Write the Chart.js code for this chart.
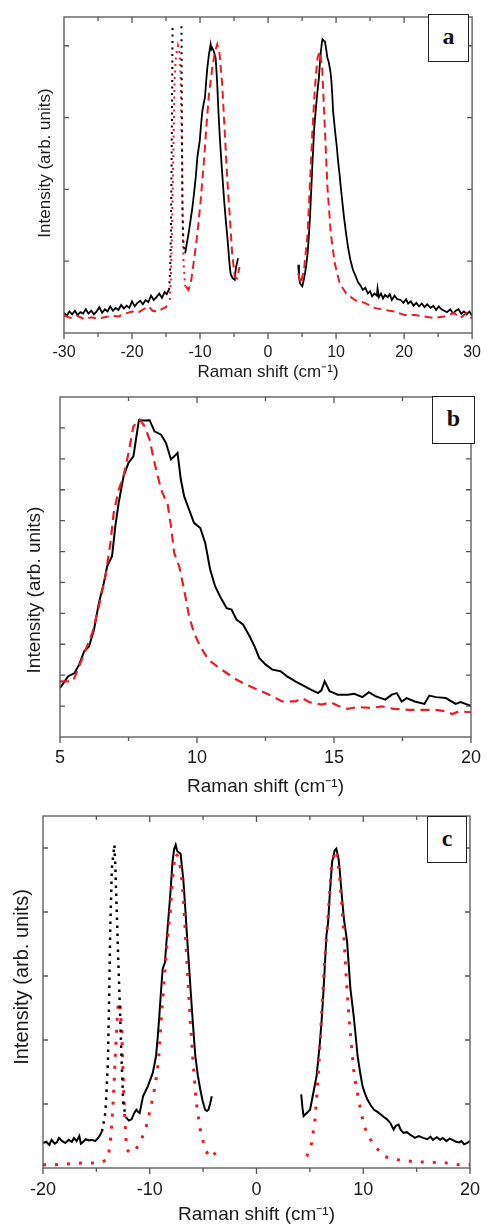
<!DOCTYPE html>
<html lang="en">
<head>
<meta charset="UTF-8">
<title>Raman spectra a, b, c</title>
<script src="https://cdn.jsdelivr.net/npm/chart.js"></script>
<style>
  body { margin: 0; background: #fff; }
  #page { position: relative; width: 491px; height: 1227px; overflow: hidden; }
  .panel { position: absolute; left: 0; }
  .tag { position: absolute; box-sizing: border-box; border: 1.5px solid #222; background: #fff;
         font: bold 24px "Liberation Serif", "Times New Roman", serif; color: #111;
         display: flex; align-items: center; justify-content: center; padding-bottom: 3px; }
</style>
</head>
<body>
<div id="page">
  <canvas id="chartA" class="panel" width="491" height="385" style="top:0"></canvas>
  <canvas id="chartB" class="panel" width="491" height="415" style="top:385px"></canvas>
  <canvas id="chartC" class="panel" width="491" height="427" style="top:800px"></canvas>
  <div class="tag" style="left:428px;top:14px;width:41px;height:48px">a</div>
  <div class="tag" style="left:432px;top:396px;width:43px;height:48px">b</div>
  <div class="tag" style="left:427px;top:816px;width:40px;height:47px">c</div>
</div>

<script>
// ---- panel a: full spectrum, -30..30 cm-1 ----
const aSolid = [
  [-30,0.28],[-29.6,0.24],[-29.2,0.3],[-28.8,0.26],[-28.4,0.31],[-28,0.25],[-27.6,0.29],[-27.2,0.27],[-26.8,0.33],[-26.4,0.27],
  [-26,0.31],[-25.6,0.26],[-25.2,0.3],[-24.8,0.36],[-24.4,0.28],[-24,0.33],[-23.6,0.3],[-23.2,0.37],[-22.8,0.31],[-22.4,0.35],
  [-22,0.32],[-21.6,0.39],[-21.2,0.34],[-20.8,0.38],[-20.4,0.35],[-20,0.44],[-19.6,0.37],[-19.2,0.42],[-18.8,0.45],[-18.4,0.4],
  [-18,0.46],[-17.6,0.43],[-17.2,0.52],[-16.8,0.46],[-16.4,0.5],[-16,0.55],[-15.6,0.49],[-15.2,0.57],[-14.9,0.54],[-14.6,0.6],
  [-14.4,null],
  [-12.19,1.11],[-11.9,1.27],[-11.61,1.43],[-11.35,1.6],[-11.12,1.75],[-10.78,2.03],[-10.6,2.2],[-10.39,2.45],[-10.04,2.68],
  [-9.85,2.9],[-9.66,3.09],[-9.45,3.2],[-9.27,3.28],[-9.1,3.5],[-8.93,3.69],[-8.69,3.88],[-8.44,4.02],[-8.32,3.95],[-8.2,3.97],
  [-7.96,3.92],[-7.71,3.83],[-7.6,3.68],[-7.47,3.46],[-7.3,3.1],[-7.12,2.77],[-6.94,2.5],[-6.74,2.22],[-6.5,1.9],[-6.25,1.61],
  [-6.05,1.4],[-5.86,1.2],[-5.7,1.0],[-5.52,0.83],[-5.35,0.79],[-5.18,0.76],[-4.89,0.74],[-4.8,0.85],[-4.7,0.92],[-4.55,0.98],[-4.41,1.04],
  [0,null],
  [4.45,0.95],[4.55,0.78],[4.7,0.69],[5.04,0.65],[5.25,0.74],[5.43,0.83],[5.62,0.95],[5.82,1.11],[6.0,1.35],[6.16,1.61],
  [6.33,1.95],[6.5,2.31],[6.65,2.6],[6.79,2.86],[6.96,3.05],[7.13,3.23],[7.3,3.4],[7.47,3.55],[7.62,3.75],[7.77,3.92],
  [7.9,4.03],[8.0,4.09],[8.18,4.07],[8.35,4.06],[8.55,3.95],[8.73,3.83],[8.9,3.78],[9.08,3.69],[9.2,3.62],[9.31,3.51],
  [9.45,3.3],[9.56,3.09],[9.73,2.93],[9.9,2.77],[10.1,2.6],[10.29,2.4],[10.5,2.22],[10.69,2.03],[10.93,1.82],[11.17,1.61],
  [11.45,1.4],[11.75,1.2],[12.1,1.02],[12.48,0.88],[12.85,0.8],[13.21,0.71],[13.6,0.66],[13.94,0.6],[14.3,0.63],[14.67,0.55],
  [15.0,0.58],[15.3,0.51],[15.65,0.55],[16.0,0.52],[16.1,0.62],[16.3,0.5],[16.6,0.55],[16.9,0.48],[17.2,0.53],[17.6,0.5],
  [17.9,0.54],[18.2,0.46],[18.6,0.52],[19.0,0.47],[19.5,0.46],[19.9,0.42],[20.3,0.47],[20.6,0.41],[21.0,0.44],[21.4,0.38],
  [21.8,0.42],[22.2,0.37],[22.6,0.41],[23.0,0.36],[23.4,0.4],[23.9,0.35],[24.3,0.38],[24.7,0.32],[25.1,0.37],[25.5,0.33],
  [25.9,0.31],[26.3,0.29],[26.8,0.33],[27.2,0.27],[27.6,0.31],[28.0,0.33],[28.4,0.27],[28.8,0.3],[29.2,0.26],[29.6,0.3],[30,0.24]
];
const aRedDash = [
  [-30,0.24],[-29,0.21],[-28,0.24],[-27,0.19],[-26,0.22],[-25,0.2],[-24,0.22],[-23,0.24],[-22,0.23],[-21,0.27],
  [-20,0.3],[-19,0.29],[-18,0.35],[-17.5,0.37],[-17,0.31],[-16.2,0.3],[-15.5,0.34],[-15,0.36],[-14.6,0.44],
  [-13.5,null],
  [-12.09,0.65],[-11.71,0.6],[-11.36,0.69],[-10.88,1.02],[-10.39,1.38],[-9.9,1.85],[-9.42,2.4],[-9.08,2.86],[-8.69,3.32],
  [-8.2,3.69],[-7.81,3.92],[-7.47,4.02],[-7.12,3.88],[-6.74,3.46],[-6.35,2.77],[-6.01,2.17],[-5.62,1.61],[-5.28,1.11],
  [-4.89,0.78],[-4.55,0.76],[-4.2,0.92],
  [0,null],
  [4.45,0.83],[4.85,0.69],[5.33,0.92],[5.82,1.38],[6.16,2.08],[6.5,2.77],[6.89,3.42],[7.27,3.83],[7.62,3.92],[7.96,3.69],
  [8.35,2.86],[8.73,2.03],[9.23,1.38],[9.81,0.97],[10.54,0.69],[11.5,0.55],[12.73,0.46],[14.19,0.42],[15.65,0.35],[17.1,0.32],
  [18.57,0.3],[20.03,0.25],[21.5,0.25],[22.95,0.23],[24.41,0.21],[25.9,0.23],[27.33,0.28],[28.3,0.21],[29.2,0.28],[30,0.2]
];
const aRedDot = [
  [-14.45,0.46],[-14.3,0.75],[-14.15,1.3],[-14.0,2.1],[-13.85,2.9],[-13.75,3.5],[-13.55,3.85],[-13.25,4.0],
  [-13.0,3.9],[-12.85,3.6],[-12.75,3.0],[-12.67,2.63],[-12.58,1.71],[-12.44,1.01],[-12.19,0.65]
];
const aBlackDot = [
  [-14.55,0.6],[-14.4,0.85],[-14.28,1.4],[-14.2,2.2],[-14.12,3.1],[-14.04,4.27],
  [-13.4,null],
  [-12.73,4.27],[-12.68,3.4],[-12.62,2.3],[-12.58,1.7],[-12.44,1.25],[-12.19,1.11]
];

// ---- panel b: Stokes peak, 5..20 cm-1 ----
const bSolid = [
  [5.0,1.59],[5.17,1.8],[5.29,1.96],[5.53,2.07],[5.7,2.34],[5.88,2.77],[6.06,2.93],[6.24,3.47],[6.42,4.34],[6.6,4.98],
  [6.72,5.52],[6.9,5.85],[7.02,6.82],[7.14,7.57],[7.32,8.44],[7.5,8.87],[7.68,9.08],[7.79,9.73],[7.88,10.25],[8.09,10.24],
  [8.27,10.25],[8.45,9.89],[8.69,9.78],[8.87,9.51],[9.05,8.98],[9.17,9.08],[9.29,9.19],[9.41,8.33],[9.53,7.79],[9.71,7.36],
  [9.89,6.93],[10.12,6.76],[10.3,6.28],[10.48,5.42],[10.66,4.88],[10.84,4.55],[11.08,4.17],[11.26,4.12],[11.44,3.8],[11.68,3.64],
  [11.92,3.26],[12.1,2.93],[12.27,2.56],[12.51,2.34],[12.75,2.18],[13.05,2.13],[13.29,1.96],[13.59,1.8],[13.83,1.69],[14.12,1.55],
  [14.42,1.42],[14.54,1.51],[14.66,1.8],[14.84,1.48],[15.14,1.37],[15.5,1.37],[15.74,1.4],[16.04,1.29],[16.27,1.45],[16.51,1.32],
  [16.87,1.21],[17.11,1.37],[17.29,1.42],[17.47,1.15],[17.65,1.26],[17.95,1.15],[18.3,1.07],[18.48,1.34],[18.72,1.29],[19.08,1.26],
  [19.44,1.07],[19.62,1.13],[19.8,1.07],[20,1.01]
];
const bRedDash = [
  [5.0,1.8],[5.47,1.8],[5.7,2.29],[5.94,2.83],[6.18,3.37],[6.42,4.23],[6.66,5.2],[6.84,6.28],[6.96,7.25],[7.14,8.0],
  [7.32,8.44],[7.5,9.19],[7.68,10.05],[7.91,10.27],[8.09,10.05],[8.27,9.62],[8.45,8.87],[8.69,8.0],[8.93,7.52],[9.05,6.82],
  [9.17,5.95],[9.35,5.52],[9.53,4.77],[9.71,3.91],[9.89,3.37],[10.12,2.93],[10.42,2.5],[10.72,2.29],[11.08,2.07],[11.44,1.86],
  [11.8,1.69],[12.27,1.51],[12.63,1.37],[13.11,1.15],[13.59,1.15],[13.83,1.26],[14.12,1.12],[14.54,1.05],[14.9,1.12],[15.14,1.01],
  [15.5,0.91],[15.86,0.97],[16.33,0.94],[16.75,0.99],[17.17,0.91],[17.77,0.88],[18.37,0.88],[18.72,0.88],[19.08,0.83],[19.32,0.74],
  [19.56,0.83],[20,0.8]
];

// ---- panel c: -20..20 cm-1 ----
const cSolid = [
  [-20,0.39],[-19.7,0.41],[-19.4,0.36],[-19.2,0.44],[-18.9,0.38],[-18.7,0.4],[-18.5,0.47],[-18.2,0.42],[-17.9,0.39],[-17.6,0.44],
  [-17.3,0.41],[-17.1,0.47],[-16.85,0.42],[-16.6,0.5],[-16.45,0.38],[-16.3,0.4],[-16.0,0.45],[-15.7,0.43],[-15.4,0.44],[-15.1,0.42],
  [-14.9,0.46],[-14.7,0.5],[-14.48,0.57],
  [-13.5,null],
  [-12.17,0.78],[-11.95,0.74],[-11.71,0.76],[-11.45,0.86],[-11.25,0.91],[-11.1,0.88],[-10.94,0.86],[-10.63,1.12],[-10.4,1.2],
  [-10.17,1.28],[-9.71,1.49],[-9.41,1.75],[-9.25,2.05],[-9.1,2.38],[-8.95,2.75],[-8.79,3.11],[-8.58,3.21],[-8.45,3.5],[-8.33,3.74],
  [-8.08,4.26],[-7.87,4.78],[-7.72,4.98],[-7.57,5.05],[-7.45,4.96],[-7.35,4.94],[-7.11,4.91],[-6.98,4.7],[-6.86,4.52],[-6.65,4.0],
  [-6.5,3.6],[-6.34,3.21],[-6.18,2.8],[-6.03,2.43],[-5.88,2.08],[-5.73,1.75],[-5.5,1.45],[-5.27,1.23],[-5.05,1.05],[-4.81,0.91],
  [-4.65,0.89],[-4.5,0.91],[-4.35,1.0],[-4.19,1.12],
  [0,null],
  [4.19,1.15],[4.3,0.95],[4.41,0.81],[4.71,0.86],[5.02,0.91],[5.18,1.05],[5.33,1.18],[5.63,1.44],[5.94,1.96],[6.1,2.3],
  [6.25,2.69],[6.4,3.15],[6.55,3.63],[6.71,3.84],[6.86,4.26],[7.08,4.78],[7.32,4.96],[7.48,4.99],[7.69,4.83],[7.8,4.65],
  [7.94,4.36],[8.19,3.89],[8.35,3.7],[8.49,3.53],[8.65,3.15],[8.8,2.8],[9.1,2.38],[9.3,2.05],[9.47,1.75],[9.7,1.5],
  [9.93,1.28],[10.15,1.17],[10.39,1.07],[10.7,0.98],[11.01,0.91],[11.3,0.88],[11.62,0.84],[11.9,0.8],[12.23,0.76],[12.55,0.7],
  [12.85,0.6],[13.05,0.66],[13.31,0.68],[13.5,0.6],[13.77,0.55],[14.1,0.56],[14.38,0.52],[14.6,0.5],[14.84,0.47],[15.2,0.5],
  [15.61,0.47],[16.0,0.45],[16.3,0.49],[16.53,0.44],[16.9,0.48],[17.2,0.44],[17.45,0.47],[17.8,0.42],[18.1,0.46],[18.37,0.44],
  [18.7,0.41],[18.99,0.4],[19.2,0.42],[19.45,0.37],[19.7,0.39],[20,0.42]
];
const cRedDot = [
  [-20,0.05],[-19,0.05],[-18,0.06],[-17,0.07],[-16,0.08],[-15,0.08],[-14.4,0.1],[-14.01,0.13],[-13.85,0.22],[-13.7,0.39],
  [-13.55,0.7],[-13.4,1.12],[-13.18,1.91],[-13.0,2.48],[-12.88,2.6],[-12.78,2.53],[-12.63,2.17],[-12.48,1.38],[-12.32,0.71],
  [-12.17,0.29],[-11.86,0.24],[-11.4,0.26],[-10.79,0.44],[-10.33,0.65],[-9.87,0.97],[-9.5,1.28],[-9.19,1.65],[-8.95,2.27],
  [-8.64,2.95],[-8.4,3.47],[-8.08,4.0],[-7.87,4.52],[-7.62,4.91],[-7.41,4.88],[-7.11,4.68],[-6.86,4.26],[-6.65,3.63],
  [-6.43,2.95],[-6.19,2.27],[-5.94,1.65],[-5.64,1.02],[-5.27,0.6],[-4.81,0.29],[-4.35,0.16],[-3.8,0.24],
  [0,null],
  [4.71,0.18],[5.17,0.39],[5.48,0.76],[5.79,1.44],[6.09,2.38],[6.4,3.27],[6.71,3.94],[7.01,4.68],[7.32,4.94],[7.48,4.96],
  [7.78,4.57],[8.09,3.89],[8.4,3.0],[8.7,2.27],[9.16,1.44],[9.62,1.02],[10.08,0.65],[10.85,0.39],[11.93,0.18],[13.15,0.13],
  [14.69,0.1],[16.22,0.09],[17.76,0.08],[18.99,0.05],[20,0.05]
];
const cBlackDot = [
  [-14.48,0.57],[-14.32,0.71],[-14.16,0.86],[-14.05,1.2],[-13.92,1.65],[-13.8,2.69],[-13.7,3.74],[-13.55,4.68],[-13.31,5.05],
  [-13.24,4.78],[-13.09,4.0],[-12.94,3.21],[-12.78,2.43],[-12.63,1.65],[-12.48,1.02],[-12.27,0.81],[-12.17,0.78]
];

const xTitle = 'Raman shift (cm\u207B\u00B9)';
const yTitle = 'Intensity (arb. units)';
const FONT = '"Liberation Sans", Arial, sans-serif';
const RED = 'rgb(236,28,36)';

// frame with inward ticks (outward on the bottom), plus the rotated y title
const framePlugin = {
  id: 'frame',
  afterDatasetsDraw(chart, args, o) {
    const { ctx, chartArea: a } = chart;
    const x = chart.scales.x, y = chart.scales.y;
    ctx.save();
    ctx.strokeStyle = '#555';
    ctx.lineWidth = 1.3;
    ctx.beginPath();
    x.ticks.forEach(t => {
      const px = x.getPixelForValue(t.value);
      const len = t.label === '' ? 4 : 6;
      ctx.moveTo(px, a.bottom); ctx.lineTo(px, a.bottom + len);
      if (t.value > x.min && t.value < x.max) { ctx.moveTo(px, a.top); ctx.lineTo(px, a.top + len); }
    });
    y.ticks.forEach(t => {
      if (t.value <= y.min || t.value >= y.max) return;
      const py = y.getPixelForValue(t.value);
      ctx.moveTo(a.left, py); ctx.lineTo(a.left + 5, py);
      ctx.moveTo(a.right, py); ctx.lineTo(a.right - 5, py);
    });
    ctx.stroke();
    ctx.strokeRect(a.left, a.top, a.right - a.left, a.bottom - a.top);

    ctx.fillStyle = '#1a1a1a';
    ctx.font = o.size + 'px ' + FONT;
    ctx.textAlign = 'center';
    ctx.textBaseline = 'middle';
    ctx.translate(o.tx, o.ty);
    ctx.rotate(-Math.PI / 2);
    ctx.fillText(yTitle, 0, 0);
    ctx.restore();
  }
};

const line = (arr, color, dash, width) => ({
  data: arr.map(([x, y]) => ({ x, y })),
  borderColor: color,
  borderWidth: width,
  borderDash: dash,
  pointRadius: 0,
  tension: 0,
  fill: false,
  spanGaps: false
});

function makeChart(id, cfg) {
  new Chart(document.getElementById(id), {
    type: 'line',
    data: { datasets: cfg.datasets },
    options: {
      responsive: false,
      animation: false,
      layout: { padding: cfg.pad },
      plugins: {
        legend: { display: false },
        tooltip: { enabled: false },
        frame: cfg.title
      },
      scales: {
        x: {
          type: 'linear', min: cfg.xmin, max: cfg.xmax,
          afterFit: s => { s.height = cfg.xh; },
          grid: { display: false, drawTicks: false },
          border: { display: false },
          ticks: {
            stepSize: cfg.xstep, autoSkip: false, maxRotation: 0,
            padding: cfg.tickPad, color: '#1a1a1a',
            font: { family: FONT, size: cfg.tickSize },
            callback: v => (v % cfg.xmajor === 0 ? String(v) : '')
          },
          title: {
            display: true, text: xTitle, color: '#1a1a1a',
            font: { family: FONT, size: cfg.titleSize },
            padding: { top: 0, bottom: cfg.titlePad }
          }
        },
        y: {
          min: 0, max: cfg.ymax,
          afterFit: s => { s.width = cfg.yw; },
          grid: { display: false },
          border: { display: false },
          ticks: { display: false, stepSize: 1 }
        }
      }
    },
    plugins: [framePlugin]
  });
}

makeChart('chartA', {
  datasets: [
    line(aBlackDot, '#000', [2, 4.5], 2),
    line(aRedDot, RED, [2, 4.5], 2),
    line(aRedDash, RED, [8, 5], 2),
    line(aSolid, '#000', [], 1.8)
  ],
  pad: { top: 17, right: 16, left: 0, bottom: 0 },
  xmin: -30, xmax: 30, xstep: 5, xmajor: 10, xh: 52, yw: 64, ymax: 4.4,
  tickPad: 10, tickSize: 16, titleSize: 17, titlePad: 2,
  title: { size: 17, tx: 45, ty: 163 }
});

makeChart('chartB', {
  datasets: [
    line(bRedDash, RED, [9, 6], 2.2),
    line(bSolid, '#000', [], 2)
  ],
  pad: { top: 12, right: 12, left: 0, bottom: 0 },
  xmin: 5, xmax: 20, xstep: 2.5, xmajor: 5, xh: 63, yw: 60, ymax: 11,
  tickPad: 10, tickSize: 18, titleSize: 19, titlePad: 2,
  title: { size: 19, tx: 35, ty: 205 }
});

makeChart('chartC', {
  datasets: [
    line(cBlackDot, '#000', [2.5, 5.5], 2.5),
    line(cRedDot, RED, [3, 9], 3),
    line(cSolid, '#000', [], 2)
  ],
  pad: { top: 16, right: 13, left: 0, bottom: 0 },
  xmin: -20, xmax: 20, xstep: 5, xmajor: 10, xh: 59, yw: 43, ymax: 5.5,
  tickPad: 11, tickSize: 18, titleSize: 19, titlePad: 1,
  title: { size: 20, tx: 22, ty: 177 }
});
</script>
</body>
</html>
